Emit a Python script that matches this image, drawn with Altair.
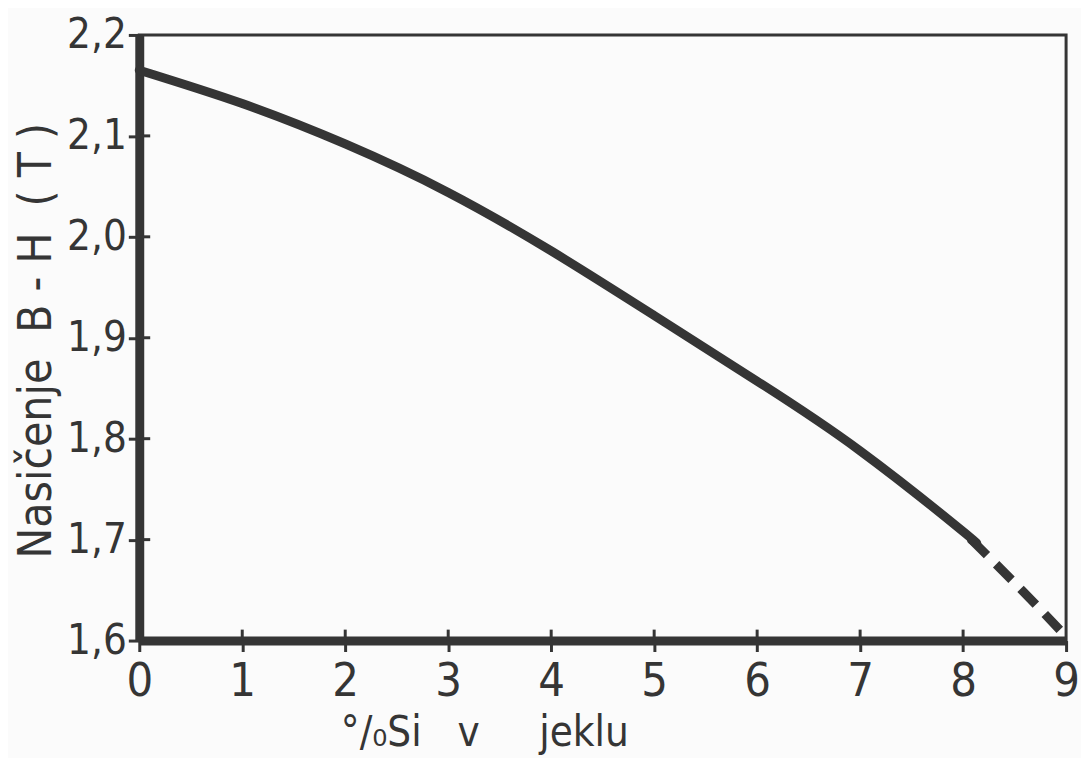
import altair as alt
import pandas as pd

# Data (x: % Si in steel, y: saturation B-H in T)
si_solid = [0, 1, 2, 3, 4, 5, 6, 7, 8, 8.08]
bh_solid = [2.165, 2.132, 2.092, 2.044, 1.986, 1.922, 1.857, 1.788, 1.708, 1.700]
si_dashed = [8.08, 8.55, 9.0]
bh_dashed = [1.700, 1.652, 1.604]

x_ticks = [0, 1, 2, 3, 4, 5, 6, 7, 8, 9]
y_ticks = [1.6, 1.7, 1.8, 1.9, 2.0, 2.1, 2.2]
x_inner = [1, 2, 3, 4, 5, 6, 7, 8]
y_inner = [1.7, 1.8, 1.9, 2.0, 2.1]

NB = "\u00a0"
x_title = "°/₀Si" + NB * 3 + "v" + NB * 5 + "jeklu"
y_title = "Nasičenje" + NB * 2 + "B" + NB + "-" + NB + "H" + NB * 2 + "(" + NB + "T" + NB + ")"

W, H = 932, 609
INK = "#353535"
FONT = "DejaVu Sans Condensed, DejaVu Sans, sans-serif"

solid = pd.DataFrame({"si": si_solid, "bh": bh_solid})
dashed = pd.DataFrame({"si": si_dashed, "bh": bh_dashed})
xin = pd.DataFrame({"si": x_inner})
yin = pd.DataFrame({"bh": y_inner})

x_scale = alt.Scale(domain=[0, 9], nice=False, zero=False)
y_scale = alt.Scale(domain=[1.6, 2.2], nice=False, zero=False)

x_axis = alt.Axis(
    values=x_ticks, format="d", title=x_title,
    titleX=347, titleY=106, titleAlign="center", titleBaseline="alphabetic",
    titleFontSize=42, titleFont=FONT, titleFontWeight="normal", titleColor=INK,
    labelFontSize=47, labelFont=FONT, labelColor=INK, labelPadding=7,
    labelFlush=False,
)
y_axis = alt.Axis(
    values=y_ticks, format=".1f", labelExpr="replace(datum.label, '.', ',')",
    title=y_title,
    titleX=-103, titleY=307, titleAngle=270, titleAlign="center", titleBaseline="middle",
    titleFontSize=46, titleFont=FONT, titleFontWeight="normal", titleColor=INK,
    labelFontSize=42, labelFont=FONT, labelColor=INK, labelPadding=2,
    labelFlush=False,
)

X = alt.X("si:Q", scale=x_scale, axis=x_axis)
Y = alt.Y("bh:Q", scale=y_scale, axis=y_axis)

line_solid = alt.Chart(solid).mark_line(
    color=INK, strokeWidth=9, strokeCap="round", interpolate="natural"
).encode(x=X, y=Y)

line_dashed = alt.Chart(dashed).mark_line(
    color=INK, strokeWidth=9, strokeCap="butt", strokeDash=[22, 13], interpolate="natural"
).encode(x=X, y=Y)

ticks_left = alt.Chart(yin).mark_rule(color=INK, strokeWidth=3).encode(
    y=Y, x=alt.value(0), x2=alt.value(11)
)
ticks_bottom = alt.Chart(xin).mark_rule(color=INK, strokeWidth=3).encode(
    x=X, y=alt.value(H), y2=alt.value(H - 11)
)

chart = alt.layer(ticks_left, ticks_bottom, line_solid, line_dashed).properties(
    width=W, height=H,
    autosize=alt.AutoSizeParams(type="none"),
    padding={"left": 132, "top": 25, "right": 15, "bottom": 116},
    background="#fbfbfb",
).configure_view(
    stroke=INK, strokeWidth=3
).configure_axis(
    grid=False, domainColor=INK, domainWidth=9, tickColor=INK, tickWidth=3, tickSize=11,
)

chart.save("out.html", embed_options={"renderer": "svg", "actions": False})
